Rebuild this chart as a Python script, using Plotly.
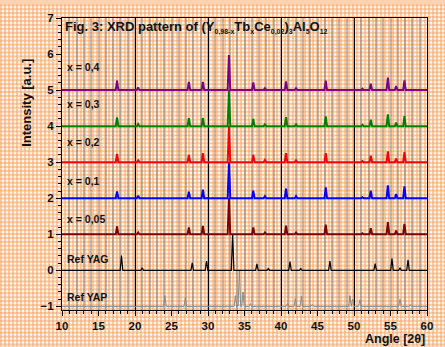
import base64
import plotly.graph_objects as go

# ---------------- data ----------------
SAMPLE_POS = [17.54, 20.43, 27.38, 29.30, 32.87, 36.20, 37.80, 40.69, 42.06,
              46.13, 51.15, 52.30, 54.64, 55.77, 56.91]
H_005 = [0.22, 0.05, 0.19, 0.23, 1.00, 0.19, 0.05, 0.24, 0.05, 0.27, 0.03, 0.17, 0.34, 0.10, 0.29]
H_01 = [0.19, 0.07, 0.18, 0.24, 1.00, 0.21, 0.06, 0.27, 0.06, 0.30, 0.03, 0.21, 0.36, 0.12, 0.33]
H_02 = [0.23, 0.05, 0.20, 0.25, 1.00, 0.20, 0.06, 0.25, 0.05, 0.25, 0.03, 0.18, 0.30, 0.10, 0.28]
H_03 = [0.24, 0.06, 0.22, 0.23, 1.00, 0.20, 0.05, 0.25, 0.05, 0.27, 0.04, 0.18, 0.33, 0.10, 0.28]
H_04 = [0.26, 0.07, 0.23, 0.23, 0.97, 0.21, 0.05, 0.24, 0.05, 0.26, 0.04, 0.18, 0.35, 0.11, 0.27]

YAG_POS = [18.15, 20.98, 27.84, 29.80, 33.37, 36.70, 38.26, 41.23, 42.70, 46.70,
           52.90, 55.20, 56.30, 57.40]
YAG_H = [0.41, 0.07, 0.21, 0.26, 1.00, 0.18, 0.05, 0.24, 0.05, 0.26, 0.19, 0.33, 0.07, 0.29]

YAP_POS = [24.10, 26.90, 33.75, 34.30, 34.80, 35.80, 40.90, 41.97, 42.80, 44.30,
           49.45, 49.80, 50.80, 56.30, 57.70]
YAP_H = [0.30, 0.25, 0.30, 1.00, 0.40, 0.08, 0.08, 0.22, 0.28, 0.05, 0.30, 0.20, 0.18, 0.20, 0.05]

SERIES_NAMES = ["x = 0,05", "x = 0,1", "x = 0,2", "x = 0,3", "x = 0,4"]
SERIES_HEIGHTS = [H_005, H_01, H_02, H_03, H_04]
SERIES_OFFSETS = [1, 2, 3, 4, 5]
SERIES_COLORS = ["#800000", "#0000ff", "#ff0000", "#008000", "#800080"]
LABEL_Y = [1.42, 2.47, 3.57, 4.62, 5.65]

REF_NAMES = ["Ref YAG", "Ref YAP"]
REF_OFFSETS = [0, -1]
REF_LABEL_Y = [0.31, -0.73]

X_MIN, X_MAX = 10, 60
HW = 0.18  # half-width of a peak spike in degrees


def spikes(pos, heights, base):
    xs, ys = [X_MIN], [base]
    for p, h in zip(pos, heights):
        xs += [p - HW, p, p + HW]
        ys += [base, base + h, base]
    xs.append(X_MAX)
    ys.append(base)
    return xs, ys


FONT = "Liberation Sans, Arial, sans-serif"

fig = go.Figure()

# reference patterns
x, y = spikes(YAP_POS, YAP_H, REF_OFFSETS[1])
fig.add_trace(go.Scatter(x=x, y=y, mode="lines", line=dict(color="#8a8a8a", width=1),
                         name=REF_NAMES[1], showlegend=False))
x, y = spikes(YAG_POS, YAG_H, REF_OFFSETS[0])
fig.add_trace(go.Scatter(x=x, y=y, mode="lines", line=dict(color="#000000", width=1.2),
                         name=REF_NAMES[0], showlegend=False))

for name, hts, off, col in zip(SERIES_NAMES, SERIES_HEIGHTS, SERIES_OFFSETS, SERIES_COLORS):
    x, y = spikes(SAMPLE_POS, hts, off)
    fig.add_trace(go.Scatter(x=x, y=y, mode="lines", line=dict(color=col, width=2),
                             name=name, showlegend=False))

# helper trace for overlay axis that carries the black 10-degree grid
fig.add_trace(go.Scatter(x=[X_MIN, X_MAX], y=[None, None], xaxis="x2", mode="lines",
                         showlegend=False, hoverinfo="skip"))

# labels
for name, ly in zip(SERIES_NAMES + REF_NAMES, LABEL_Y + REF_LABEL_Y):
    fig.add_annotation(x=10.35, y=ly, text=name, showarrow=False,
                       xanchor="left", yanchor="middle",
                       font=dict(family=FONT, size=10.5, color="#111", weight="bold"))

SUB = '<sub><span style="font-size:7px">%s</span></sub>'
title = ("Fig. 3: XRD pattern of (Y" + SUB % "0,98-x" + "Tb" + SUB % "x" + "Ce"
         + SUB % "0,02" + ")" + SUB % "3" + "Al" + SUB % "5" + "O" + SUB % "12")
fig.add_annotation(x=10.15, y=6.73, text=title,
                   showarrow=False, xanchor="left", yanchor="middle",
                   font=dict(family=FONT, size=13, color="#111", weight="bold"))

W, H = 445, 347
L, R, T, B = 62, 18, 14, 37
PW, PH = W - L - R, H - T - B

fig.add_annotation(xref="paper", yref="paper", x=(27 - L) / PW, y=1 - (100 - T) / PH,
                   text="Intensity [a.u.]", textangle=-90, showarrow=False,
                   xanchor="center", yanchor="middle",
                   font=dict(family=FONT, size=13, color="#111", weight="bold"))
fig.add_annotation(xref="paper", yref="paper", x=(395 - L) / PW, y=1 - (339 - T) / PH,
                   text="Angle [2θ]", showarrow=False,
                   xanchor="center", yanchor="middle",
                   font=dict(family=FONT, size=12.5, color="#111", weight="bold"))

# textured orange background
svg = ('<svg xmlns="http://www.w3.org/2000/svg" width="%d" height="%d">'
       '<defs><pattern id="p" width="4" height="4" patternUnits="userSpaceOnUse">'
       '<rect width="4" height="4" fill="#fff6ef"/>'
       '<rect x="0" y="0" width="2" height="4" fill="#f6a15e" fill-opacity="0.5"/>'
       '<rect x="0" y="0" width="4" height="2" fill="#f6a15e" fill-opacity="0.5"/>'
       '</pattern></defs><rect width="%d" height="%d" fill="url(#p)"/></svg>') % (W, H, W, H)
src = "data:image/svg+xml;base64," + base64.b64encode(svg.encode()).decode()
fig.add_layout_image(dict(source=src, xref="paper", yref="paper",
                          x=-L / PW, y=1 + T / PH, sizex=W / PW, sizey=H / PH,
                          xanchor="left", yanchor="top", sizing="stretch", layer="below"))

GRID = "rgba(120,120,120,0.45)"
TICKFONT = dict(family=FONT, size=11.5, color="#111", weight="bold")
fig.update_layout(
    width=W, height=H,
    margin=dict(l=L, r=R, t=T, b=B),
    paper_bgcolor="#fbd3b4", plot_bgcolor="rgba(0,0,0,0)",
    font=dict(family=FONT, color="#111"),
    xaxis=dict(range=[X_MIN, X_MAX], tick0=10, dtick=5, ticks="outside", ticklen=5,
               tickwidth=1, tickcolor="#000", showline=True, linecolor="#000", linewidth=1,
               mirror=True, zeroline=False, showgrid=True,
               gridcolor=GRID, gridwidth=2, tickfont=TICKFONT,
               minor=dict(dtick=1, ticks="outside", ticklen=3, tickcolor="#000",
                          showgrid=True, gridcolor=GRID, gridwidth=2)),
    xaxis2=dict(range=[X_MIN, X_MAX], overlaying="x", tick0=10, dtick=10, showgrid=True,
                gridcolor="#000", gridwidth=1, showticklabels=False, ticks="",
                showline=False, zeroline=False),
    yaxis=dict(range=[-1.1, 7], tick0=0, dtick=1, ticks="outside", ticklen=5,
               tickwidth=1, tickcolor="#000", showline=True, linecolor="#000", linewidth=1,
               mirror=True, zeroline=False, showgrid=False, tickfont=TICKFONT,
               minor=dict(dtick=0.2, ticks="outside", ticklen=3, tickcolor="#000")),
    showlegend=False,
)

fig.write_html("out.html", config={"displayModeBar": False},
               post_script="document.body.style.margin='0';document.body.style.padding='0';")
